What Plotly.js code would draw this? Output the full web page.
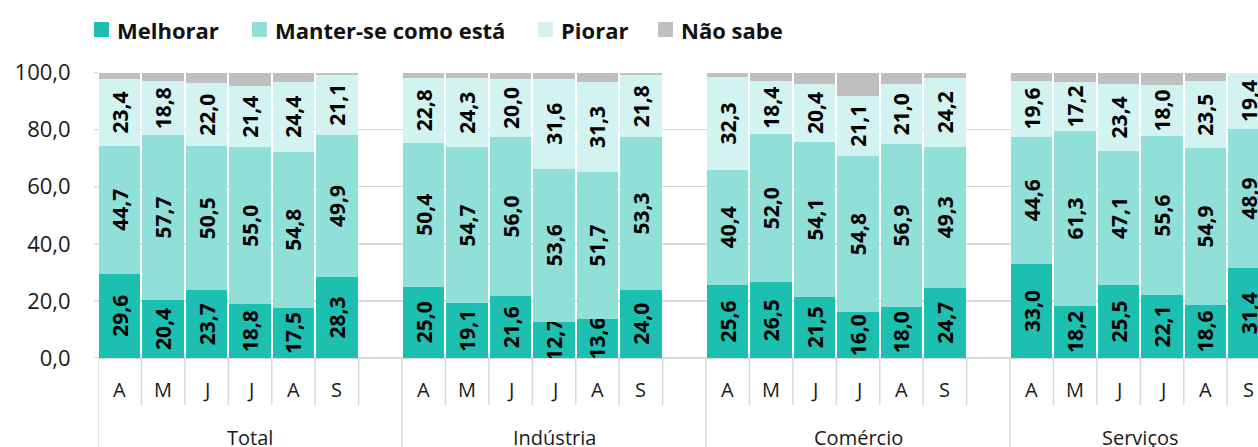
<!DOCTYPE html>
<html><head><meta charset="utf-8">
<script src="https://cdn.plot.ly/plotly-3.0.1.min.js"></script>
<style>html,body{margin:0;padding:0;background:#fff}</style>
</head><body><div id="chart" style="width:1258px;height:447px"></div>
<script>
const groups = ['Total', 'Indústria', 'Comércio', 'Serviços'];
const months = ['A', 'M', 'J', 'J', 'A', 'S'];
const seriesNames = ['Melhorar', 'Manter-se como está', 'Piorar', 'Não sabe'];
// order: Total (A..S), Indústria (A..S), Comércio (A..S), Serviços (A..S)
const melhorar = [29.6, 20.4, 23.7, 18.8, 17.5, 28.3,
                  25.0, 19.1, 21.6, 12.7, 13.6, 24.0,
                  25.6, 26.5, 21.5, 16.0, 18.0, 24.7,
                  33.0, 18.2, 25.5, 22.1, 18.6, 31.4];
const manter   = [44.7, 57.7, 50.5, 55.0, 54.8, 49.9,
                  50.4, 54.7, 56.0, 53.6, 51.7, 53.3,
                  40.4, 52.0, 54.1, 54.8, 56.9, 49.3,
                  44.6, 61.3, 47.1, 55.6, 54.9, 48.9];
const piorar   = [23.4, 18.8, 22.0, 21.4, 24.4, 21.1,
                  22.8, 24.3, 20.0, 31.6, 31.3, 21.8,
                  32.3, 18.4, 20.4, 21.1, 21.0, 24.2,
                  19.6, 17.2, 23.4, 18.0, 23.5, 19.4];
const naoSabe  = [2.3, 3.1, 3.8, 4.8, 3.3, 0.7,
                  1.8, 1.9, 2.4, 2.1, 3.4, 0.9,
                  1.7, 3.1, 4.0, 8.1, 4.1, 1.8,
                  2.8, 3.3, 4.0, 4.3, 3.0, 0.3];
const yTicks = [0, 20, 40, 60, 80, 100];

const colors = ['#1DBFB1', '#90E0D9', '#D3F3F0', '#BFBFBF'];
const seriesData = [melhorar, manter, piorar, naoSabe];

// slot positions: each group has 6 months + one empty slot
const xs = [];
groups.forEach((g, gi) => months.forEach((m, mi) => xs.push(gi * 7 + mi)));

const fmt = v => v.toFixed(1).replace('.', ',');
const FONT = 'Open Sans, Noto Sans, sans-serif';

const traces = seriesData.map((vals, si) => ({
  type: 'bar',
  name: seriesNames[si],
  x: xs,
  y: vals,
  width: 0.955,
  marker: {color: colors[si], line: {width: 0}},
  text: si < 3 ? vals.map(fmt) : undefined,
  textposition: si < 3 ? 'inside' : 'none',
  insidetextanchor: 'middle',
  textangle: -90,
  constraintext: 'none',
  textfont: {family: FONT, size: 21, color: '#000', weight: 'bold'},
  hoverinfo: 'skip',
  showlegend: false
}));

// pixel helpers for the plot box (left 98, width 1160, zero at 358, height 286)
const PL = 98, PW = 1160, PX0 = 358, PH = 286;
const px = p => (p - PL) / PW;
const py = p => (PX0 - p) / PH;

const shapes = [];
const annotations = [];

// small tick marks left of the gridlines
yTicks.forEach(t => shapes.push({type: 'line', xref: 'paper', yref: 'y', x0: px(94), x1: px(98), y0: t, y1: t,
  line: {color: '#D9D9D9', width: 1.5}}));

groups.forEach((g, gi) => {
  const start = gi * 7 - 0.5;
  shapes.push({type: 'line', xref: 'x', yref: 'paper', x0: start, x1: start, y0: 0, y1: py(447),
               line: {color: '#D9D9D9', width: 1.5}});
  const nShort = gi < groups.length - 1 ? 6 : 5;
  for (let k = 1; k <= nShort; k++) {
    shapes.push({type: 'line', xref: 'x', yref: 'paper', x0: start + k, x1: start + k, y0: 0, y1: py(405),
                 line: {color: '#D9D9D9', width: 1.5}});
  }
  months.forEach((m, mi) => annotations.push({
    xref: 'x', yref: 'paper', x: gi * 7 + mi, y: py(389), text: m, showarrow: false,
    xanchor: 'center', yanchor: 'middle', font: {family: FONT, size: 20, color: '#1a1a1a'}
  }));
  const center = gi < groups.length - 1 ? gi * 7 + 3 : gi * 7 + 2.5;
  annotations.push({
    xref: 'x', yref: 'paper', x: center, y: py(437), text: g, showarrow: false,
    xanchor: 'center', yanchor: 'middle', font: {family: FONT, size: 20, color: '#1a1a1a'}
  });
});

// legend (drawn as swatches + labels)
const legendSwatchX = [94, 252, 538, 658];
seriesNames.forEach((n, si) => {
  const x0 = legendSwatchX[si];
  shapes.push({type: 'rect', xref: 'paper', yref: 'paper', x0: px(x0), x1: px(x0 + 15), y0: py(37), y1: py(22),
               fillcolor: colors[si], line: {width: 0}});
  annotations.push({xref: 'paper', yref: 'paper', x: px(x0 + 21), y: py(30), text: n, showarrow: false,
    xanchor: 'left', yanchor: 'middle', font: {family: FONT, size: 22, color: '#111', weight: 'bold'}});
});

const layout = {
  width: 1258, height: 447,
  margin: {l: PL, r: 0, t: 72, b: 89, pad: 0},
  paper_bgcolor: '#fff', plot_bgcolor: '#fff',
  separators: ',.',
  barmode: 'stack',
  showlegend: false,
  xaxis: {range: [-0.5, 26.21], showgrid: false, zeroline: false, showticklabels: false,
          ticks: '', showline: false, fixedrange: true},
  yaxis: {range: [0, 100.2], tickvals: yTicks, ticktext: yTicks.map(fmt),
          showgrid: true, gridcolor: '#D9D9D9', gridwidth: 1.5,
          zeroline: true, zerolinecolor: '#D9D9D9', zerolinewidth: 2,
          ticks: 'outside', ticklen: 22, tickcolor: 'rgba(0,0,0,0)',
          tickfont: {family: FONT, size: 22, color: '#1a1a1a'}, showline: false, fixedrange: true},
  shapes: shapes,
  annotations: annotations
};

Plotly.newPlot('chart', traces, layout, {displayModeBar: false, staticPlot: true});
</script></body></html>
